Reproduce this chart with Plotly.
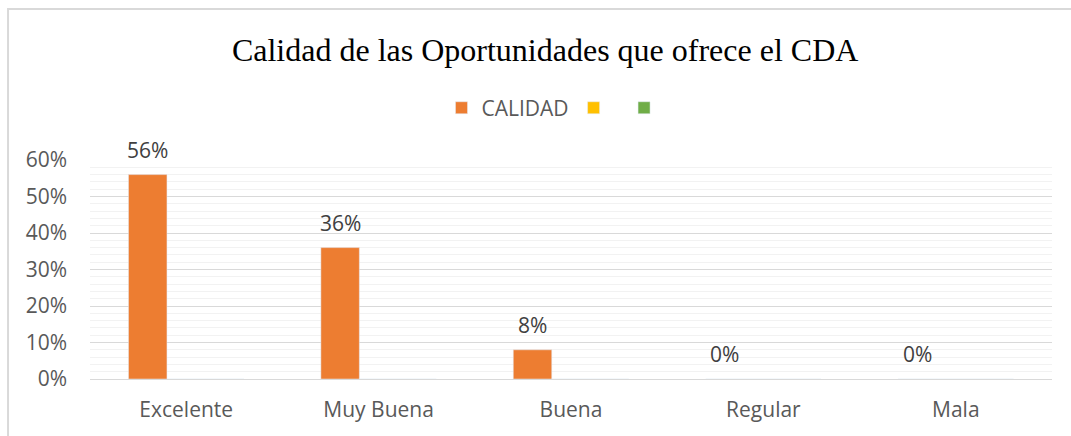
import plotly.graph_objects as go

categorias = ["Excelente", "Muy Buena", "Buena", "Regular", "Mala"]
calidad = [0.56, 0.36, 0.08, 0.0, 0.0]
serie2 = [0, 0, 0, 0, 0]
serie3 = [0, 0, 0, 0, 0]

etiquetas = [f"{round(v * 100)}%" for v in calidad]

BARGAP = 0.4
ancho_cat = (1071 - 90 - 19) / len(categorias)
desplaz = -ancho_cat * (1 - BARGAP) / 3

fig = go.Figure()
fig.add_trace(go.Bar(x=categorias, y=calidad, name="CALIDAD",
                     marker_color="#ED7D31"))
fig.add_trace(go.Bar(x=categorias, y=serie2, name=" ", marker_color="#FFC000"))
fig.add_trace(go.Bar(x=categorias, y=serie3, name=" ", marker_color="#70AD47"))

# etiquetas de datos sobre la serie CALIDAD
for cat, val, txt in zip(categorias, calidad, etiquetas):
    fig.add_annotation(x=cat, y=val, text=txt, showarrow=False,
                       xshift=desplaz, yshift=25, yanchor="middle",
                       font=dict(size=21, color="#404040"))

fig.update_layout(
    width=1071, height=436,
    margin=dict(l=90, r=19, t=160, b=57),
    plot_bgcolor="white", paper_bgcolor="white",
    font=dict(family="Open Sans", color="#595959", size=21),
    barmode="group", bargap=BARGAP, bargroupgap=0,
    title=dict(text="Calidad de las Oportunidades que ofrece el CDA",
               x=0.509, xanchor="center", y=0.885, yanchor="middle",
               font=dict(family="Liberation Serif", size=32, color="#000000")),
    legend=dict(orientation="h", x=0.487, xanchor="center", y=1.237, yanchor="middle",
                font=dict(size=21, color="#595959"), itemwidth=30,
                traceorder="normal"),
    showlegend=True,
    shapes=[dict(type="rect", xref="paper", yref="paper",
                 x0=-0.0852, x1=1.1, y0=-0.4, y1=1.689,
                 line=dict(color="#D9D9D9", width=2), fillcolor="rgba(0,0,0,0)",
                 layer="below")],
)
fig.update_yaxes(range=[0, 0.6], dtick=0.1, tickformat=".0%",
                 showgrid=True, gridcolor="#D9D9D9", gridwidth=1,
                 minor=dict(dtick=0.02, showgrid=True, gridcolor="#F2F2F2", gridwidth=1),
                 zeroline=False, showline=False, ticks="", ticklabelstandoff=22)
fig.update_xaxes(showline=True, linecolor="#D9D9D9", linewidth=1, ticks="",
                 ticklabelstandoff=12)

fig.write_html("out.html", config={"displayModeBar": False},
               post_script="document.body.style.margin='0';")
